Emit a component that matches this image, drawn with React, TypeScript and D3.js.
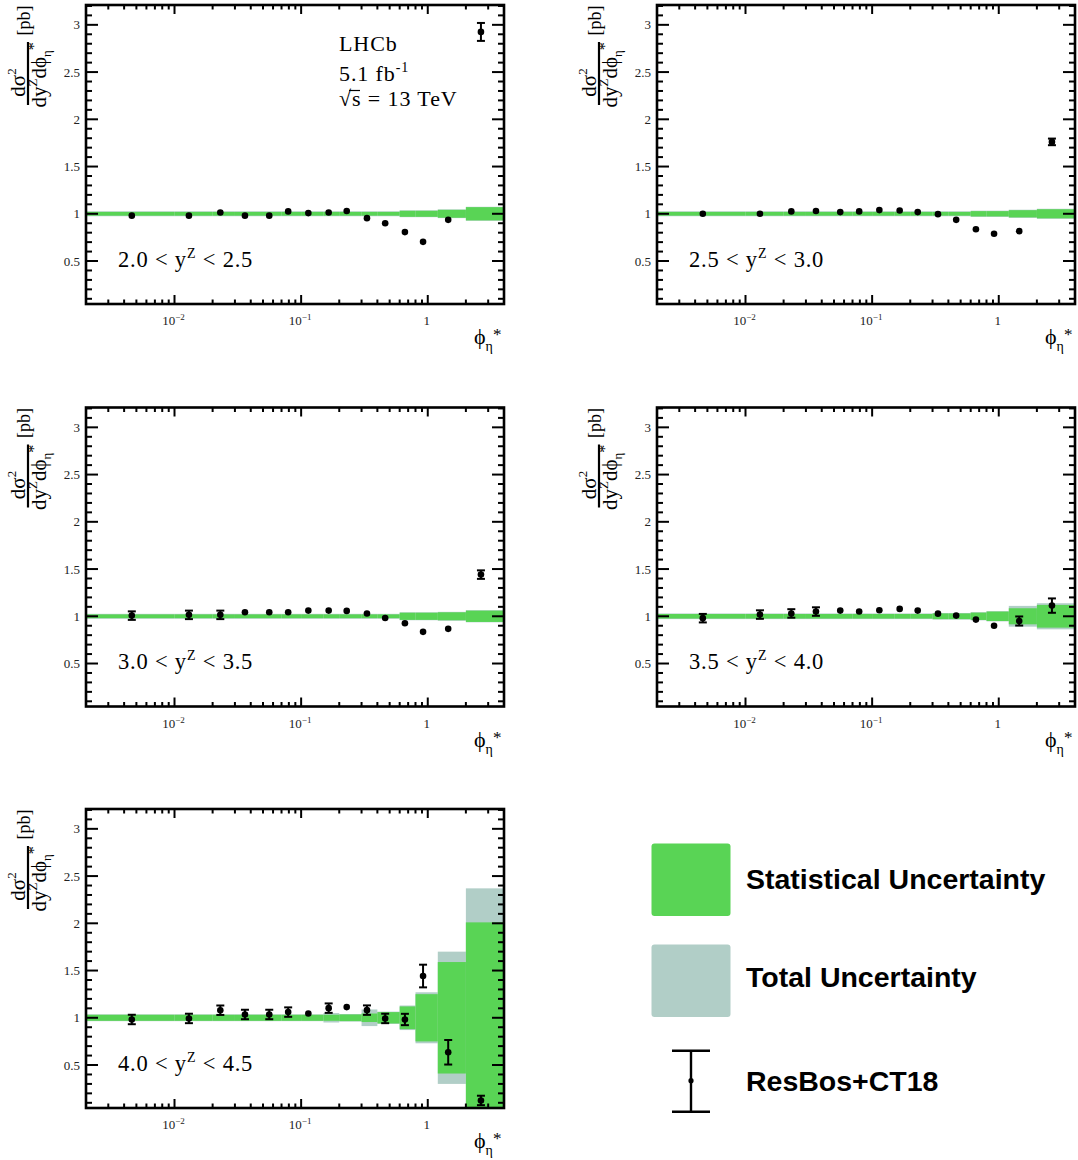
import React from 'react';
import * as d3 from 'd3';

// ---------- data ----------
const binEdges = [0, 0.01, 0.02, 0.03, 0.05, 0.07, 0.1, 0.15, 0.2, 0.3, 0.4, 0.6, 0.8, 1.2, 2.0, 4.0];
const phiStar = [0.0046, 0.013, 0.023, 0.036, 0.056, 0.079, 0.114, 0.165, 0.229, 0.331, 0.461, 0.66, 0.918, 1.45, 2.63];

const yLow = ['2.0', '2.5', '3.0', '3.5', '4.0'];
const yHigh = ['2.5', '3.0', '3.5', '4.0', '4.5'];

const vals1 = [0.98, 0.98, 1.014, 0.98, 0.98, 1.025, 1.007, 1.014, 1.03, 0.954, 0.9, 0.806, 0.703, 0.936, 2.925];
const errs1 = [0.01, 0.01, 0.01, 0.01, 0.01, 0.01, 0.01, 0.01, 0.01, 0.01, 0.01, 0.01, 0.01, 0.01, 0.095];
const stat1 = [0.02, 0.02, 0.02, 0.02, 0.02, 0.02, 0.02, 0.02, 0.02, 0.02, 0.02, 0.032, 0.032, 0.042, 0.07];
const tot1 = [0.026, 0.026, 0.026, 0.026, 0.026, 0.026, 0.026, 0.026, 0.026, 0.026, 0.026, 0.036, 0.036, 0.046, 0.074];

const vals2 = [1.0, 1.0, 1.025, 1.03, 1.018, 1.025, 1.039, 1.035, 1.018, 0.996, 0.936, 0.837, 0.788, 0.816, 1.761];
const errs2 = [0.01, 0.01, 0.01, 0.01, 0.01, 0.01, 0.01, 0.01, 0.01, 0.01, 0.01, 0.01, 0.01, 0.01, 0.035];
const stat2 = [0.02, 0.02, 0.02, 0.02, 0.02, 0.02, 0.02, 0.02, 0.02, 0.02, 0.02, 0.028, 0.028, 0.038, 0.048];
const tot2 = [0.026, 0.026, 0.026, 0.026, 0.026, 0.026, 0.026, 0.026, 0.026, 0.026, 0.026, 0.033, 0.033, 0.043, 0.053];

const vals3 = [1.007, 1.015, 1.015, 1.042, 1.042, 1.042, 1.06, 1.06, 1.057, 1.03, 0.982, 0.926, 0.835, 0.867, 1.441];
const errs3 = [0.045, 0.045, 0.045, 0.01, 0.01, 0.01, 0.01, 0.01, 0.01, 0.01, 0.01, 0.01, 0.01, 0.01, 0.045];
const stat3 = [0.02, 0.02, 0.02, 0.02, 0.02, 0.02, 0.02, 0.02, 0.02, 0.02, 0.02, 0.038, 0.038, 0.042, 0.06];
const tot3 = [0.026, 0.026, 0.026, 0.026, 0.026, 0.026, 0.026, 0.026, 0.026, 0.026, 0.026, 0.042, 0.042, 0.047, 0.064];

const vals4 = [0.98, 1.018, 1.03, 1.05, 1.06, 1.05, 1.064, 1.078, 1.06, 1.028, 1.007, 0.965, 0.9, 0.95, 1.113];
const errs4 = [0.045, 0.045, 0.045, 0.045, 0.01, 0.01, 0.01, 0.01, 0.01, 0.01, 0.01, 0.01, 0.01, 0.048, 0.076];
const stat4 = [0.024, 0.024, 0.024, 0.024, 0.024, 0.024, 0.024, 0.024, 0.024, 0.03, 0.03, 0.039, 0.05, 0.085, 0.12];
const tot4 = [0.03, 0.03, 0.03, 0.03, 0.03, 0.03, 0.03, 0.03, 0.03, 0.035, 0.035, 0.043, 0.054, 0.11, 0.138];

const vals5 = [0.982, 0.993, 1.08, 1.035, 1.035, 1.06, 1.046, 1.102, 1.113, 1.081, 0.993, 0.982, 1.442, 0.635, 0.125];
const errs5 = [0.05, 0.05, 0.05, 0.05, 0.05, 0.05, 0.01, 0.05, 0.01, 0.05, 0.05, 0.06, 0.12, 0.13, 0.05];
const stat5 = [0.032, 0.032, 0.032, 0.032, 0.032, 0.032, 0.032, 0.032, 0.035, 0.045, 0.06, 0.12, 0.25, 0.59, 1.01];
const tot5 = [0.036, 0.036, 0.036, 0.036, 0.036, 0.036, 0.036, 0.05, 0.04, 0.088, 0.065, 0.13, 0.27, 0.7, 1.37];

const yTicks = [0.5, 1, 1.5, 2, 2.5, 3];
const yTickLabels = ['0.5', '1', '1.5', '2', '2.5', '3'];
const xTicks = [0.01, 0.1, 1];
const xTickBase = ['10', '10', '1'];
const xTickExp = ['\u22122', '\u22121', ''];

const legendLabels = ['Statistical Uncertainty', 'Total Uncertainty', 'ResBos+CT18'];

// ---------- style ----------
const SERIF = "'Liberation Serif', 'Times New Roman', serif";
const SANS = "'Liberation Sans', Arial, sans-serif";
const GREEN = '#59d455';
const GRAY = '#b1cec7';
const PHI = '\u03D5';

const W = 418;
const H = 299;
const colX = [86, 657];
const rowY = [5, 407.5, 809];

const panels = [
  { vals: vals1, errs: errs1, stat: stat1, tot: tot1, col: 0, row: 0, lhcb: true },
  { vals: vals2, errs: errs2, stat: stat2, tot: tot2, col: 1, row: 0, lhcb: false },
  { vals: vals3, errs: errs3, stat: stat3, tot: tot3, col: 0, row: 1, lhcb: false },
  { vals: vals4, errs: errs4, stat: stat4, tot: tot4, col: 1, row: 1, lhcb: false },
  { vals: vals5, errs: errs5, stat: stat5, tot: tot5, col: 0, row: 2, lhcb: false },
];

function Panel({ p, idx }: { p: any; idx: number }) {
  const x0 = colX[p.col];
  const y0 = rowY[p.row];
  const xDom: [number, number] = [0.002, 4];
  const yDom: [number, number] = [0.045, 3.21];
  const x = d3.scaleLog().domain(xDom).range([x0, x0 + W]);
  const y = d3.scaleLinear().domain(yDom).range([y0 + H, y0]);

  const clipId = `clip${idx}`;

  const yMinor = d3.range(1, 33).map((i) => i / 10).filter((v) => Math.abs(v * 2 - Math.round(v * 2)) > 1e-6 && v <= yDom[1]);
  const xMinor: number[] = [];
  [-3, -2, -1, 0].forEach((k) => {
    for (let m = 2; m <= 9; m++) {
      const v = m * Math.pow(10, k);
      if (v > xDom[0] * 1.0001 && v < xDom[1] * 0.9999) xMinor.push(v);
    }
  });

  const bins = binEdges.slice(0, -1).map((lo, i) => ({
    x1: x(Math.max(lo, xDom[0])),
    x2: x(binEdges[i + 1]),
    stat: p.stat[i],
    tot: p.tot[i],
  }));

  const yy = (v: number) => y(Math.max(yDom[0] - 0.1, Math.min(yDom[1] + 0.1, v)));

  return (
    <g>
      <defs>
        <clipPath id={clipId}>
          <rect x={x0} y={y0} width={W} height={H} />
        </clipPath>
      </defs>
      <g clipPath={`url(#${clipId})`}>
        {bins.map((b, i) => (
          <rect key={'t' + i} x={b.x1} width={b.x2 - b.x1} y={yy(1 + b.tot)} height={yy(1 - b.tot) - yy(1 + b.tot)} fill={GRAY} />
        ))}
        {bins.map((b, i) => (
          <rect key={'s' + i} x={b.x1} width={b.x2 - b.x1} y={yy(1 + b.stat)} height={yy(1 - b.stat) - yy(1 + b.stat)} fill={GREEN} />
        ))}
      </g>
      {p.vals.map((v: number, i: number) => {
        const cx = x(phiStar[i]);
        const cy = y(v);
        const e = p.errs[i];
        const eh = y(v - e) - cy;
        return (
          <g key={'p' + i}>
            {eh > 2.5 && (
              <g stroke="#000" strokeWidth={2}>
                <line x1={cx} x2={cx} y1={y(v + e)} y2={y(v - e)} />
                <line x1={cx - 4} x2={cx + 4} y1={y(v + e)} y2={y(v + e)} />
                <line x1={cx - 4} x2={cx + 4} y1={y(v - e)} y2={y(v - e)} />
              </g>
            )}
            <circle cx={cx} cy={cy} r={3.3} fill="#000" />
          </g>
        );
      })}
      <g stroke="#000" strokeWidth={2}>
        {yTicks.map((t) => (
          <g key={'ym' + t}>
            <line x1={x0} x2={x0 + 12} y1={y(t)} y2={y(t)} />
            <line x1={x0 + W} x2={x0 + W - 12} y1={y(t)} y2={y(t)} />
          </g>
        ))}
        {yMinor.map((t) => (
          <g key={'yn' + t}>
            <line x1={x0} x2={x0 + 6} y1={y(t)} y2={y(t)} />
            <line x1={x0 + W} x2={x0 + W - 6} y1={y(t)} y2={y(t)} />
          </g>
        ))}
        {xTicks.map((t) => (
          <g key={'xm' + t}>
            <line x1={x(t)} x2={x(t)} y1={y0 + H} y2={y0 + H - 9} />
            <line x1={x(t)} x2={x(t)} y1={y0} y2={y0 + 9} />
          </g>
        ))}
        {xMinor.map((t) => (
          <g key={'xn' + t}>
            <line x1={x(t)} x2={x(t)} y1={y0 + H} y2={y0 + H - 4.5} />
            <line x1={x(t)} x2={x(t)} y1={y0} y2={y0 + 4.5} />
          </g>
        ))}
      </g>
      <rect x={x0} y={y0} width={W} height={H} fill="none" stroke="#000" strokeWidth={2.6} />
      <g fontFamily={SERIF} fontSize={13} fill="#222">
        {yTicks.map((t, i) => (
          <text key={'yl' + t} x={x0 - 6} y={y(t) + 4.5} textAnchor="end">{yTickLabels[i]}</text>
        ))}
        {xTicks.map((t, i) => (
          <text key={'xl' + t} x={x(t) - 1} y={y0 + H + 21} textAnchor="middle">
            {xTickBase[i]}
            {xTickExp[i] && <tspan fontSize={9} dy={-5}>{xTickExp[i]}</tspan>}
          </text>
        ))}
      </g>
      {/* x axis title */}
      <text x={x0 + 388} y={y0 + 339} fontFamily={SERIF} fill="#000" fontSize={22}>
        {PHI}
        <tspan fontSize={14} dy={7}>η</tspan>
        <tspan fontSize={17} dx={0} dy={-11}>*</tspan>
      </text>
      {/* y axis title */}
      <g transform={`translate(${x0 - 58},${y0 + 68.5}) rotate(-90)`} fontFamily={SERIF} fill="#000">
        <text x={-9} y={-3} fontSize={21} textAnchor="middle">
          dσ<tspan fontSize={13} dy={-9}>2</tspan>
        </text>
        <line x1={-31.5} x2={31.5} y1={0} y2={0} stroke="#000" strokeWidth={2.2} />
        <text x={-34} y={18} fontSize={21}>
          dy<tspan fontSize={13} dy={-9}>Z</tspan>
          <tspan dy={9}>d{PHI}</tspan>
          <tspan fontSize={13} dy={5}>η</tspan>
          <tspan fontSize={16} dx={0} dy={-12}>*</tspan>
        </text>
        <text x={38} y={2} fontSize={18}>[pb]</text>
      </g>
      {/* rapidity label */}
      <text x={x0 + 32} y={y0 + 261.5} fontFamily={SERIF} fontSize={22.5} letterSpacing={0.8} fill="#000">
        {yLow[idx]} &lt; y<tspan fontSize={14} dy={-9}>Z</tspan><tspan dy={9}> &lt; {yHigh[idx]}</tspan>
      </text>
      {p.lhcb && (
        <g fontFamily={SERIF} fontSize={22} letterSpacing={0.9} fill="#000">
          <text x={x0 + 253} y={y0 + 46}>LHCb</text>
          <text x={x0 + 253} y={y0 + 76}>
            5.1 fb<tspan fontSize={14} dy={-9}>-1</tspan>
          </text>
          <text x={x0 + 253} y={y0 + 101}>√s = 13 TeV</text>
          <line x1={x0 + 263} x2={x0 + 274} y1={y0 + 85.5} y2={y0 + 85.5} stroke="#000" strokeWidth={1.2} />
        </g>
      )}
    </g>
  );
}

export default function App() {
  return (
    <svg width={1078} height={1160} style={{ position: 'absolute', left: 0, top: 0, background: '#fff' }}>
      <rect x={0} y={0} width={1078} height={1160} fill="#fff" />
      {panels.map((p, i) => (
        <Panel key={i} p={p} idx={i} />
      ))}
      <g>
        <rect x={651.5} y={843.5} width={79} height={72.5} rx={3} fill={GREEN} />
        <rect x={651.5} y={944.5} width={79} height={72.5} rx={3} fill={GRAY} />
        <g stroke="#000" strokeWidth={2.4}>
          <line x1={691} x2={691} y1={1050.7} y2={1111.7} />
          <line x1={672} x2={710} y1={1050.7} y2={1050.7} />
          <line x1={672} x2={710} y1={1111.7} y2={1111.7} />
        </g>
        <circle cx={691} cy={1080.7} r={2.6} fill="#000" />
        <g fontFamily={SANS} fontWeight="bold" fontSize={28.5} fill="#000">
          <text x={746} y={888.5}>{legendLabels[0]}</text>
          <text x={746} y={987}>{legendLabels[1]}</text>
          <text x={746} y={1091}>{legendLabels[2]}</text>
        </g>
      </g>
    </svg>
  );
}
